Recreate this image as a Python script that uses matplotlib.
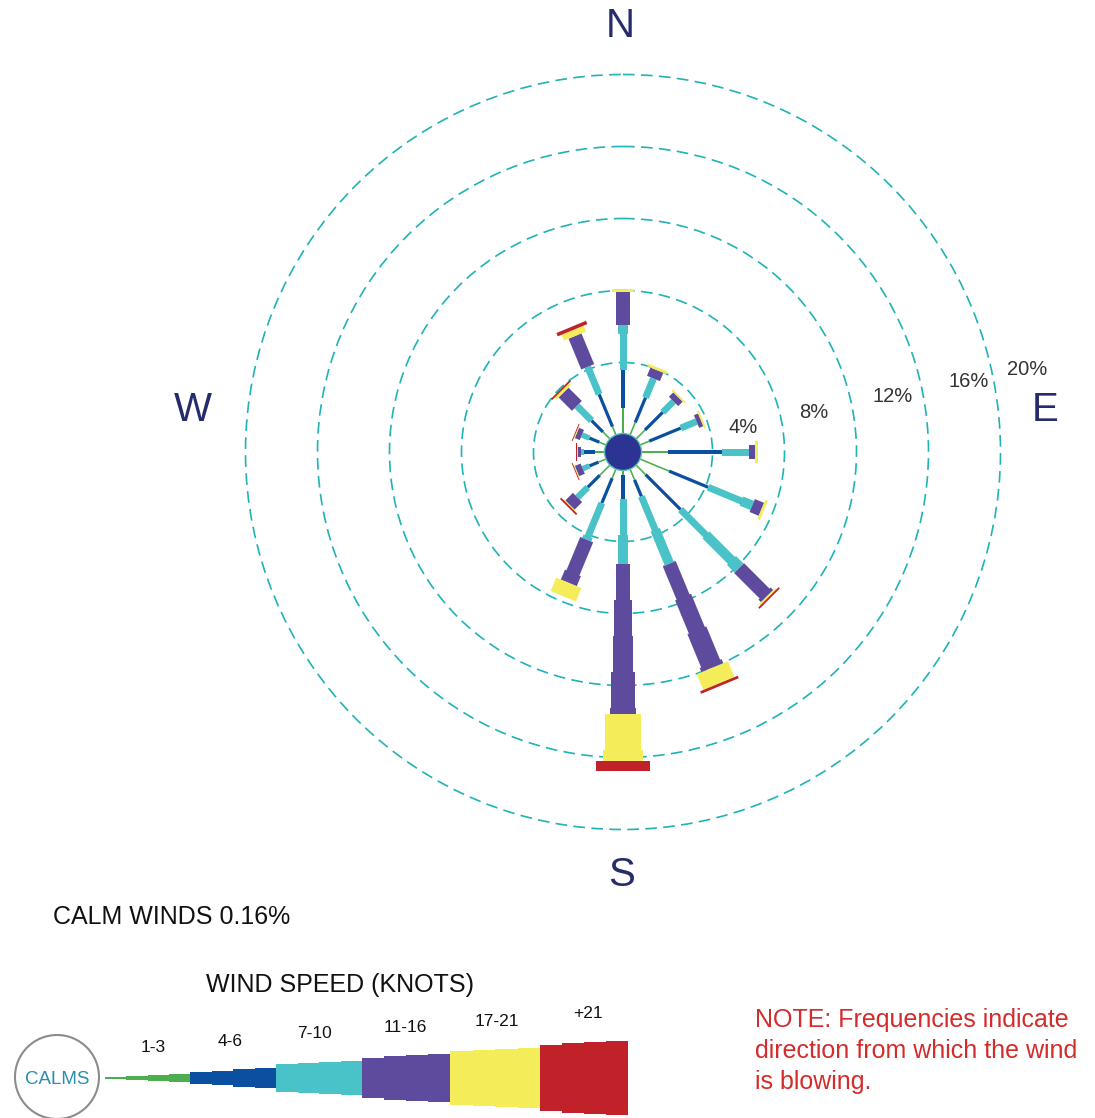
import numpy as np
import matplotlib
matplotlib.use("Agg")
import matplotlib.pyplot as plt
from matplotlib.patches import Polygon, Circle

plt.rcParams['font.family'] = ['Liberation Sans', 'DejaVu Sans']

# ---------------------------------------------------------------- data
directions = ['N', 'NNE', 'NE', 'ENE', 'E', 'ESE', 'SE', 'SSE',
              'S', 'SSW', 'SW', 'WSW', 'W', 'WNW', 'NW', 'NNW']
bearings = [0.0, 22.5, 45.0, 67.5, 90.0, 112.5, 135.0, 157.5,
            180.0, 202.5, 225.0, 247.5, 270.0, 292.5, 315.0, 337.5]

speed_classes = ['1-3', '4-6', '7-10', '11-16', '17-21', '+21']
class_colors = ['#4cae4c', '#0b50a0', '#49c3c8', '#5f4b9d', '#f5ec59', '#c1222a']

# frequency (%) of each speed class per direction (wind blowing from)
freq_1_3   = [1.50, 0.80, 0.75, 0.60, 1.50, 1.80, 0.80, 0.70,
              0.30, 0.60, 0.85, 0.50, 0.60, 0.45, 0.60, 0.55]
freq_4_6   = [2.10, 1.50, 1.40, 1.90, 3.05, 2.35, 2.75, 1.00,
              1.35, 1.50, 0.95, 0.55, 0.60, 0.60, 0.90, 1.95]
freq_7_10  = [2.50, 1.15, 0.85, 0.95, 1.50, 2.65, 4.60, 4.05,
              3.60, 2.20, 0.80, 0.40, 0.15, 0.45, 1.15, 1.65]
freq_11_16 = [1.80, 0.50, 0.35, 0.25, 0.30, 0.55, 2.20, 6.25,
              8.35, 2.60, 0.60, 0.35, 0.20, 0.30, 1.05, 1.85]
freq_17_21 = [0.20, 0.15, 0.10, 0.10, 0.20, 0.15, 0.10, 0.95,
              2.60, 0.80, 0.05, 0.05, 0.03, 0.05, 0.15, 0.35]
freq_21up  = [0.00, 0.00, 0.00, 0.00, 0.00, 0.00, 0.10, 0.15,
              0.55, 0.00, 0.10, 0.05, 0.05, 0.05, 0.10, 0.20]

ring_levels = [4, 8, 12, 16, 20]
calm_pct = 0.16

# -------------------------------------------------------------- layout
W, H = 1095, 1118
cx, cy = 623, 452          # rose centre (pixels)
hub_r = 17.5               # radius of the calm hub = 0 %
px_per_pct = 18.0
ring_label_gap = [33, 33, 42, 47, 35]

fig = plt.figure(figsize=(W / 100, H / 100), dpi=100)
ax = fig.add_axes([0, 0, 1, 1])
ax.set_xlim(0, W)
ax.set_ylim(H, 0)
ax.set_aspect('equal')
ax.axis('off')


def radius(p):
    return hub_r + px_per_pct * p


def to_px(theta_deg, along, across):
    t = np.radians(theta_deg)
    ux, uy = np.sin(t), -np.cos(t)
    nx, ny = np.cos(t), np.sin(t)
    return (cx + along * ux + across * nx, cy + along * uy + across * ny)


def stepped(r0, r1, w0, grow, step=36.0):
    """Outline of a bar that widens in small stairs along its length."""
    length = r1 - r0
    n = max(1, int(np.ceil(length / step - 1e-9)))
    left, right = [], []
    w = w0
    for k in range(n):
        a = r0 + k * step
        b = min(r1, r0 + (k + 1) * step)
        w = w0 + grow * k * step
        left += [(a, w / 2), (b, w / 2)]
        right += [(a, -w / 2), (b, -w / 2)]
    return left + right[::-1], w


# dashed frequency rings
ring_color = '#1fb3b6'
for lv, gap in zip(ring_levels, ring_label_gap):
    ax.add_patch(Circle((cx, cy), radius(lv), fill=False, ec=ring_color,
                        lw=1.2, ls=(0, (7, 3.8)), zorder=1))
    ang = np.radians(11.6)
    rl = radius(lv) + gap
    ax.text(cx + rl * np.cos(ang), cy - rl * np.sin(ang), f'{lv}%',
            fontsize=14.5, color='#333333', ha='center', va='center', zorder=5)

# petals
table = np.array([freq_1_3, freq_4_6, freq_7_10, freq_11_16, freq_17_21, freq_21up]).T
for theta, row in zip(bearings, table):
    total = row.sum()
    scale = min(1.0, 0.6 + total / 10.0)
    cum = 0.0
    prev_w = 0.0
    for c, val in enumerate(row):
        if val <= 0:
            continue
        r0, r1 = radius(cum), radius(cum + val)
        cum += val
        if c == 0:
            w0, g = 1.6, 0.0
        elif c == 1:
            w0, g = 3.2, 0.0
        elif c == 2:
            w0, g = 7.0 * scale, 0.08
        elif c == 3:
            w0, g = max(14.0 * scale, prev_w), 0.09
        elif c == 4:
            w0, g = prev_w + min(10.0, 3 + 25 * val) * scale, 0.1
        else:
            w0, g = prev_w + min(14.0, 4 + 20 * val) * scale, 0.0
        pts, prev_w = stepped(r0, r1, w0, g)
        xy = [to_px(theta, a, b) for a, b in pts]
        ax.add_patch(Polygon(xy, closed=True, fc=class_colors[c], ec='none',
                             zorder=3 + c * 0.01))

# calm hub
ax.add_patch(Circle((cx, cy), hub_r + 1.0, fc='#2b3492', ec='#59c2b4', lw=1.0, zorder=4))

# compass letters
compass_color = '#262c6b'
for lab, (x, y) in {'N': (620, 26), 'S': (622, 875), 'W': (193, 410), 'E': (1045, 410)}.items():
    ax.text(x, y, lab, fontsize=29, color=compass_color, ha='center', va='center')

# calm text & legend
ax.text(53, 917, f'CALM WINDS {calm_pct:.2f}%', fontsize=18, color='#111111',
        ha='left', va='center')
ax.text(340, 985, 'WIND SPEED (KNOTS)', fontsize=18, color='#111111',
        ha='center', va='center')

ax.add_patch(Circle((57, 1077), 42, fill=False, ec='#8c8c8c', lw=1.5, zorder=3))
ax.text(57, 1079, 'CALMS', fontsize=13.5, color='#2a8fae', ha='center', va='center')

leg_y = 1078
leg_x = [105, 190, 276, 362, 450, 540, 628]
leg_half = [(0.8, 4.5), (5.5, 10.5), (13.0, 18.0), (19.5, 25.0), (26.5, 31.0), (32.5, 38.0)]
leg_label_x = [153, 230, 314, 405, 497, 588]
for c, lab in enumerate(speed_classes):
    x0, x1 = leg_x[c], leg_x[c + 1]
    h0, h1 = leg_half[c]
    nsteps = 4
    top, bot = [], []
    for k in range(nsteps):
        a = x0 + (x1 - x0) * k / nsteps
        b = x0 + (x1 - x0) * (k + 1) / nsteps
        h = h0 + (h1 - h0) * (k + 0.5) / nsteps
        top += [(a, leg_y - h), (b, leg_y - h)]
        bot += [(a, leg_y + h), (b, leg_y + h)]
    ax.add_patch(Polygon(top + bot[::-1], closed=True, fc=class_colors[c], ec='none'))
    ax.text(leg_label_x[c], leg_y - h1 - 26, lab, fontsize=12.5, color='#111111',
            ha='center', va='center')

note_lines = ['NOTE: Frequencies indicate', 'direction from which the wind', 'is blowing.']
for i, line in enumerate(note_lines):
    ax.text(755, 1020 + 31 * i, line, fontsize=18, color='#d42b2b', ha='left', va='center')

fig.savefig('out.png', dpi=100)
